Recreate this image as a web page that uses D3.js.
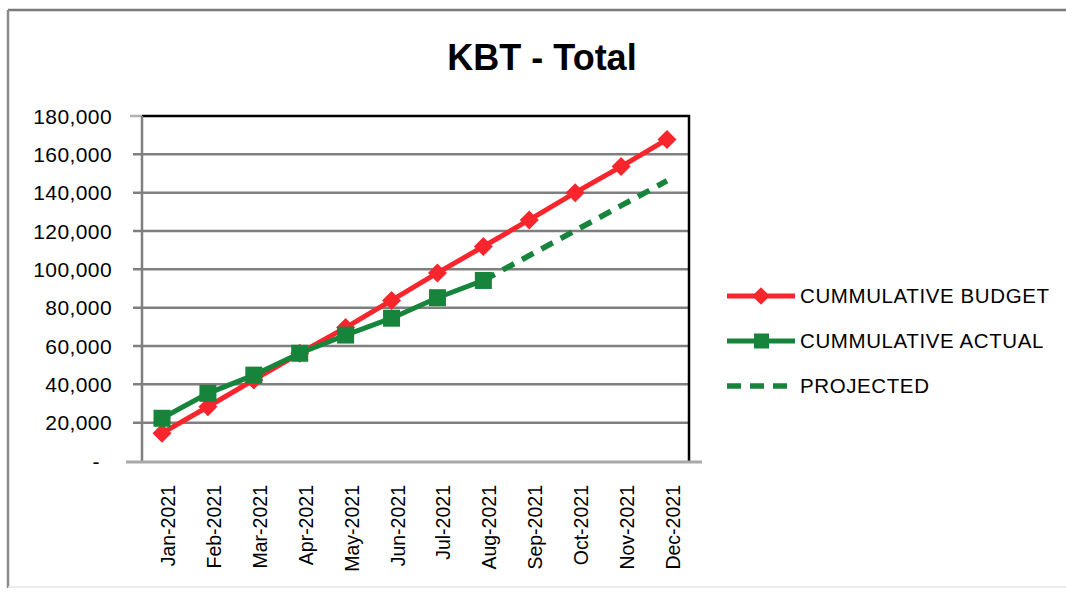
<!DOCTYPE html>
<html>
<head>
<meta charset="utf-8">
<script src="https://cdn.jsdelivr.net/npm/d3@7"></script>
<style>
  body { margin: 0; background: #fff; }
  svg { display: block; }
</style>
</head>
<body>
<svg id="chart" width="1066" height="592"></svg>
<script>
// data
var months = ["Jan-2021", "Feb-2021", "Mar-2021", "Apr-2021", "May-2021", "Jun-2021",
              "Jul-2021", "Aug-2021", "Sep-2021", "Oct-2021", "Nov-2021", "Dec-2021"];
var budget = [14500, 28300, 42300, 56200, 69600, 83800, 98100, 111900, 125800, 140000, 153600, 167800];
var actual = [22300, 35300, 44800, 56200, 65700, 74500, 85200, 94200];
var projectedMonths = ["Aug-2021", "Sep-2021", "Oct-2021", "Nov-2021", "Dec-2021"];
var projected = [94200, 107200, 120200, 133200, 146200];
var yTicks = [0, 20000, 40000, 60000, 80000, 100000, 120000, 140000, 160000, 180000];
var legendNames = ["CUMMULATIVE BUDGET", "CUMMULATIVE ACTUAL", "PROJECTED"];

var red = "#f7262c";
var green = "#17843c";

var svg = d3.select("#chart");

// outer frame
svg.append("line").attr("x1", 8).attr("x2", 1066).attr("y1", 10).attr("y2", 10)
  .attr("stroke", "#7a7a7a").attr("stroke-width", 2.5);
svg.append("line").attr("x1", 8).attr("x2", 8).attr("y1", 10).attr("y2", 588)
  .attr("stroke", "#8a8a8a").attr("stroke-width", 2.5);
svg.append("line").attr("x1", 8).attr("x2", 1066).attr("y1", 587).attr("y2", 587)
  .attr("stroke", "#e4e4e4").attr("stroke-width", 1.5);

// title
svg.append("text")
  .attr("x", 542).attr("y", 70)
  .attr("text-anchor", "middle")
  .attr("font-family", "Liberation Sans, Arial, sans-serif")
  .attr("font-weight", "bold").attr("font-size", 36)
  .attr("fill", "#000")
  .text("KBT - Total");

var x = d3.scalePoint().domain(months).range([162, 667]);
var y = d3.scaleLinear().domain([0, 180000]).range([461, 116]);

// gridlines
svg.append("g").selectAll("line")
  .data(yTicks.filter(function (d) { return d > 0 && d < 180000; }))
  .enter().append("line")
  .attr("x1", 133).attr("x2", 689)
  .attr("y1", function (d) { return y(d); })
  .attr("y2", function (d) { return y(d); })
  .attr("stroke", "#7f7f7f").attr("stroke-width", 2.5);

// top and right border of plot
svg.append("path")
  .attr("d", "M142," + y(180000) + "H689V" + y(0))
  .attr("fill", "none").attr("stroke", "#000").attr("stroke-width", 2.5);
svg.append("line").attr("x1", 130).attr("x2", 142)
  .attr("y1", y(180000)).attr("y2", y(180000))
  .attr("stroke", "#b0b0b0").attr("stroke-width", 2.5);

// y axis line
svg.append("line").attr("x1", 142).attr("x2", 142).attr("y1", y(180000)).attr("y2", y(0))
  .attr("stroke", "#7f7f7f").attr("stroke-width", 2.5);
// x axis line
svg.append("line").attr("x1", 126).attr("x2", 702).attr("y1", y(0) + 1).attr("y2", y(0) + 1)
  .attr("stroke", "#a8a8a8").attr("stroke-width", 3);

// y labels
svg.append("g").selectAll("text")
  .data(yTicks)
  .enter().append("text")
  .attr("x", function (d) { return d === 0 ? 100 : 112; })
  .attr("y", function (d) { return y(d); })
  .attr("dy", "0.36em")
  .attr("text-anchor", "end")
  .attr("font-family", "Liberation Sans, Arial, sans-serif")
  .attr("font-size", 21)
  .attr("letter-spacing", 0.4)
  .attr("fill", "#000")
  .text(function (d) { return d === 0 ? "-" : d3.format(",")(d); });

// x labels
svg.append("g").selectAll("text")
  .data(months)
  .enter().append("text")
  .attr("transform", function (d) { return "translate(" + (x(d) + 13) + ",485) rotate(-90)"; })
  .attr("text-anchor", "end")
  .attr("font-family", "Liberation Sans, Arial, sans-serif")
  .attr("font-size", 19.5)
  .attr("fill", "#000")
  .text(function (d) { return d; });

// lines
var line = d3.line()
  .x(function (d) { return x(d[0]); })
  .y(function (d) { return y(d[1]); });

svg.append("path")
  .datum(projectedMonths.map(function (m, i) { return [m, projected[i]]; }))
  .attr("d", line)
  .attr("fill", "none").attr("stroke", green).attr("stroke-width", 5.5)
  .attr("stroke-dasharray", "13,9");

svg.append("path")
  .datum(months.map(function (m, i) { return [m, budget[i]]; }))
  .attr("d", line)
  .attr("fill", "none").attr("stroke", red).attr("stroke-width", 5);

svg.append("g").selectAll("path")
  .data(budget)
  .enter().append("path")
  .attr("d", d3.symbol().type(d3.symbolDiamond2).size(230))
  .attr("transform", function (d, i) { return "translate(" + x(months[i]) + "," + y(d) + ")"; })
  .attr("fill", red);

svg.append("path")
  .datum(actual.map(function (v, i) { return [months[i], v]; }))
  .attr("d", line)
  .attr("fill", "none").attr("stroke", green).attr("stroke-width", 5);

svg.append("g").selectAll("rect")
  .data(actual)
  .enter().append("rect")
  .attr("x", function (d, i) { return x(months[i]) - 8.5; })
  .attr("y", function (d) { return y(d) - 8.5; })
  .attr("width", 17).attr("height", 17)
  .attr("fill", green);

// legend
var legY = [296, 341, 386];
var leg = svg.append("g");
legendNames.forEach(function (name, i) {
  var g = leg.append("g").attr("transform", "translate(0," + legY[i] + ")");
  var col = i === 0 ? red : green;
  if (i < 2) {
    g.append("line").attr("x1", 727).attr("x2", 795).attr("y1", 0).attr("y2", 0)
      .attr("stroke", col).attr("stroke-width", 5);
  } else {
    g.append("line").attr("x1", 727).attr("x2", 790).attr("y1", 0).attr("y2", 0)
      .attr("stroke", col).attr("stroke-width", 5.5).attr("stroke-dasharray", "14,9");
  }
  if (i === 0) {
    g.append("path").attr("d", d3.symbol().type(d3.symbolDiamond2).size(200))
      .attr("transform", "translate(761,0)").attr("fill", red);
  } else if (i === 1) {
    g.append("rect").attr("x", 754).attr("y", -7.5).attr("width", 15).attr("height", 15)
      .attr("fill", green);
  }
  g.append("text")
    .attr("x", 800).attr("y", 0).attr("dy", "0.36em")
    .attr("font-family", "Liberation Sans, Arial, sans-serif")
    .attr("font-size", 20.5)
    .attr("letter-spacing", 0.6)
    .attr("fill", "#000")
    .text(name);
});
</script>
</body>
</html>
